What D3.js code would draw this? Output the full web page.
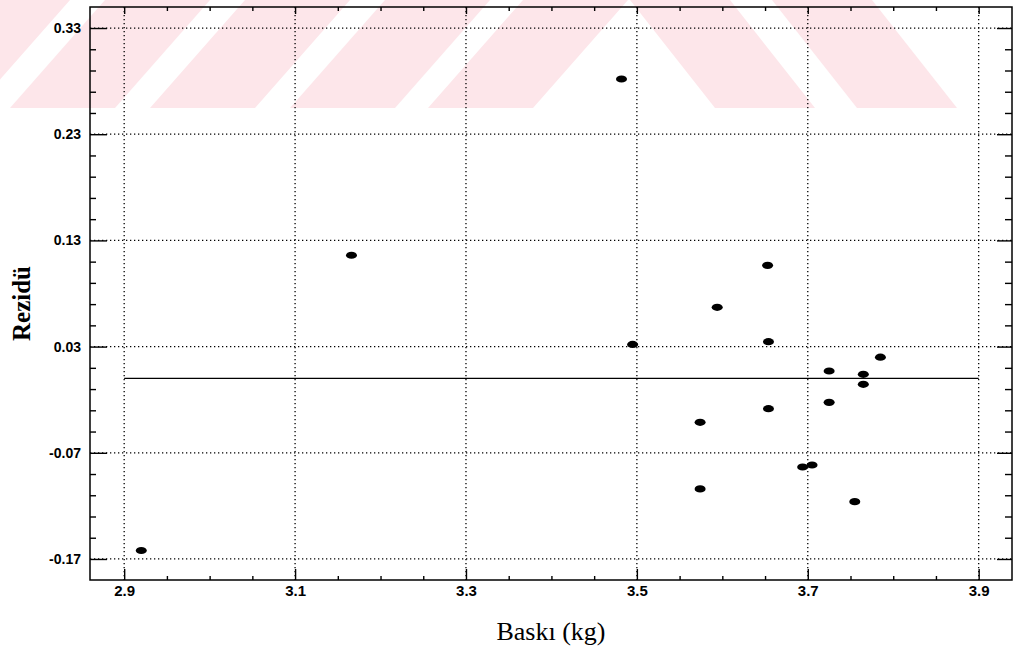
<!DOCTYPE html>
<html>
<head>
<meta charset="utf-8">
<script src="https://cdn.jsdelivr.net/npm/d3@7"></script>
<style>
  html, body { margin: 0; padding: 0; background: #fff; }
  svg { display: block; }
</style>
</head>
<body>
<svg id="chart" width="1015" height="654"></svg>
<script>
// ---- data ----
const baski  = [3.482, 3.166, 3.653, 3.594, 3.495, 3.654, 3.785, 3.725, 3.765, 3.765, 3.725, 3.654, 3.574, 3.694, 3.705, 3.574, 3.755, 2.920];
const rezidu = [0.282, 0.116, 0.1065, 0.067, 0.032, 0.0346, 0.020, 0.007, 0.0039, -0.0055, -0.0225, -0.0285, -0.0413, -0.0834, -0.0815, -0.104, -0.116, -0.162];
const xTicks = [2.9, 3.1, 3.3, 3.5, 3.7, 3.9];
const yTicks = [-0.17, -0.07, 0.03, 0.13, 0.23, 0.33];
const refLineX = [2.9, 3.9];
const refLineY = [0, 0];
const xLabel = "Baskı (kg)";
const yLabel = "Rezidü";

// ---- layout ----
const L = 90, R = 1012, T = 7, B = 580;
const svg = d3.select("#chart");

// watermark (decorative background stripes)
const wm = svg.append("g").attr("fill", "#fde6ea");
const wmH = 108;
const leftStripes = [-130, 10, 150, 290, 428];
leftStripes.forEach(b => {
  wm.append("polygon").attr("points", `${b},${wmH} ${b+105},${wmH} ${b+200},0 ${b+95},0`);
});
const rightStripes = [630, 772];
rightStripes.forEach(t => {
  wm.append("polygon").attr("points", `${t},0 ${t+100},0 ${t+185},${wmH} ${t+85},${wmH}`);
});

const x = d3.scaleLinear().domain([2.86, 3.939]).range([L, R]);
const y = d3.scaleLinear().domain([-0.1898, 0.3498]).range([B, T]);

const xMinor = d3.range(2.85, 3.951, 0.05).filter(v => v > 2.861 && v < 3.938 && !xTicks.some(t => Math.abs(t - v) < 1e-6));
const yMinor = d3.range(-0.19, 0.351, 0.02).filter(v => v > -0.189 && v < 0.349 && !yTicks.some(t => Math.abs(t - v) < 1e-6));

// gridlines
const grid = svg.append("g").attr("stroke", "#000").attr("stroke-width", 1.3).attr("stroke-dasharray", "1.3,2.7");
grid.selectAll(".gx").data(xTicks).join("line")
  .attr("x1", d => x(d)).attr("x2", d => x(d)).attr("y1", T).attr("y2", B);
grid.selectAll(".gy").data(yTicks).join("line")
  .attr("x1", L).attr("x2", R).attr("y1", d => y(d)).attr("y2", d => y(d));

// axes
const fmtY = d => d3.format(".2f")(d).replace("−", "-");
const axL = d3.axisLeft(y).tickValues(yTicks).tickSize(-17).tickFormat(fmtY).tickPadding(9);
const axLm = d3.axisLeft(y).tickValues(yMinor).tickSize(-6).tickFormat("");
const axB = d3.axisBottom(x).tickValues(xTicks).tickSize(-11).tickFormat(d3.format(".1f")).tickPadding(5);
const axBm = d3.axisBottom(x).tickValues(xMinor).tickSize(-4).tickFormat("");
const axR = d3.axisRight(y).tickValues(yTicks).tickSize(-15).tickFormat("");
const axRm = d3.axisRight(y).tickValues(yMinor).tickSize(-7).tickFormat("");
const axT = d3.axisTop(x).tickValues(xTicks).tickSize(-7).tickFormat("");
const axTm = d3.axisTop(x).tickValues(xMinor).tickSize(-4).tickFormat("");

function styleAxis(g) {
  g.select(".domain").remove();
  g.selectAll(".tick line").attr("stroke", "#000").attr("stroke-width", 1.4);
}
const gL = svg.append("g").attr("transform", `translate(${L},0)`).call(axL).call(styleAxis);
svg.append("g").attr("transform", `translate(${L},0)`).call(axLm).call(styleAxis);
const gB = svg.append("g").attr("transform", `translate(0,${B})`).call(axB).call(styleAxis);
svg.append("g").attr("transform", `translate(0,${B})`).call(axBm).call(styleAxis);
svg.append("g").attr("transform", `translate(${R},0)`).call(axR).call(styleAxis);
svg.append("g").attr("transform", `translate(${R},0)`).call(axRm).call(styleAxis);
svg.append("g").attr("transform", `translate(0,${T})`).call(axT).call(styleAxis);
svg.append("g").attr("transform", `translate(0,${T})`).call(axTm).call(styleAxis);

gL.selectAll(".tick text").attr("font-family", "'Liberation Sans', Arial, sans-serif")
  .attr("font-size", 14).attr("font-weight", "bold").attr("fill", "#000");
gB.selectAll(".tick text").attr("font-family", "'Liberation Sans Narrow', 'Liberation Sans', Arial, sans-serif")
  .attr("font-size", 15).attr("font-weight", "bold").attr("fill", "#000");

// frame
svg.append("rect").attr("x", L).attr("y", T).attr("width", R - L).attr("height", B - T)
  .attr("fill", "none").attr("stroke", "#000").attr("stroke-width", 1.5);

// reference line at zero
svg.append("path")
  .datum(refLineX.map((v, i) => [v, refLineY[i]]))
  .attr("d", d3.line().x(d => x(d[0])).y(d => y(d[1])))
  .attr("stroke", "#000").attr("stroke-width", 1.2).attr("fill", "none");

// points
svg.append("g").selectAll("ellipse").data(baski.map((v, i) => [v, rezidu[i]])).join("ellipse")
  .attr("cx", d => x(d[0])).attr("cy", d => y(d[1]))
  .attr("rx", 5.5).attr("ry", 3.6).attr("fill", "#000");

// axis titles
svg.append("text").text(yLabel)
  .attr("transform", `translate(30,${(T + B) / 2 + 10}) rotate(-90)`)
  .attr("text-anchor", "middle")
  .attr("font-family", "'Liberation Serif', 'Times New Roman', serif")
  .attr("font-size", 25).attr("font-weight", "bold").attr("fill", "#000");
svg.append("text").text(xLabel)
  .attr("x", 551).attr("y", 640)
  .attr("text-anchor", "middle")
  .attr("font-family", "'Liberation Serif', 'Times New Roman', serif")
  .attr("font-size", 26).attr("fill", "#000");
</script>
</body>
</html>
